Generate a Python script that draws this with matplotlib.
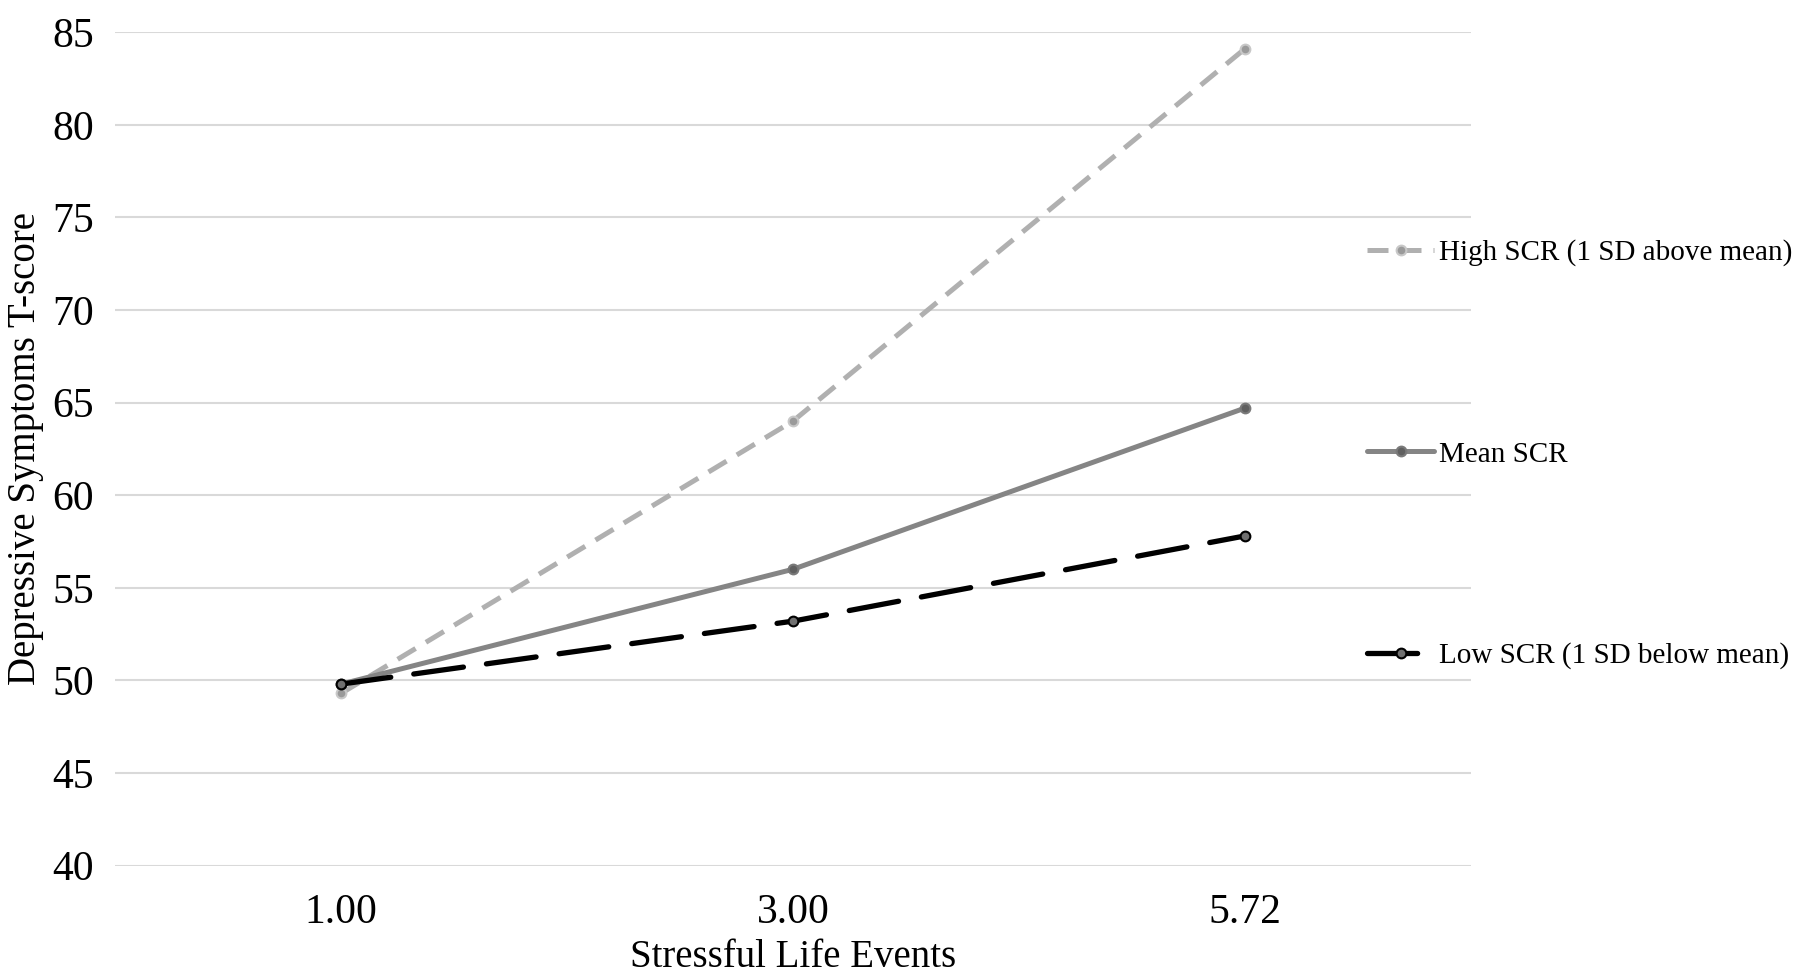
import matplotlib
matplotlib.use("Agg")
import matplotlib.pyplot as plt

# Data
events = ["1.00", "3.00", "5.72"]
high_scr = [49.3, 64.0, 84.1]
mean_scr = [49.8, 56.0, 64.7]
low_scr = [49.8, 53.2, 57.8]
y_ticks = [40, 45, 50, 55, 60, 65, 70, 75, 80, 85]

plt.rcParams['font.family'] = ['Liberation Serif', 'DejaVu Serif']

fig = plt.figure(figsize=(18, 9.77), dpi=100)
ax = fig.add_axes([0.064, 0.114, 0.753, 0.853])

x = range(len(events))

ax.plot(x, high_scr, color='#b0b0b0', lw=3.6, dashes=(4.2, 2.4),
        marker='o', ms=7, mfc='#9a9a9a', mec='#c8c8c8', mew=1.5,
        label='High SCR (1 SD above mean)', zorder=3)
ax.plot(x, mean_scr, color='#858585', lw=3.6, solid_capstyle='round',
        marker='o', ms=7, mfc='#606060', mec='#7a7a7a', mew=1.5,
        label='Mean SCR', zorder=4)
ax.plot(x, low_scr, color='black', lw=3.8, dashes=(9.5, 4.4), dash_capstyle='round',
        marker='o', ms=7, mfc='#707070', mec='black', mew=1.5,
        label='Low SCR (1 SD below mean)', zorder=5)

ax.set_xlim(-0.5, 2.5)
ax.set_ylim(40, 85)
ax.set_xticks(list(x))
ax.set_xticklabels(events)
ax.set_yticks(y_ticks)
ax.grid(axis='y', color='#d9d9d9', lw=1.5)
ax.set_axisbelow(True)
for s in ax.spines.values():
    s.set_visible(False)
ax.tick_params(length=0, labelsize=30)
ax.tick_params(axis='y', pad=15)
ax.tick_params(axis='x', pad=20)

ax.set_xlabel("Stressful Life Events", fontsize=28, labelpad=5)
ax.set_ylabel("Depressive Symptoms T-score", fontsize=28, labelpad=6)

fig.legend(loc='center left', bbox_to_anchor=(0.745, 0.535), frameon=False,
           fontsize=21, labelspacing=6.0, handlelength=2.3, handletextpad=0.15,
           numpoints=1)

plt.savefig("out.png", dpi=100)
